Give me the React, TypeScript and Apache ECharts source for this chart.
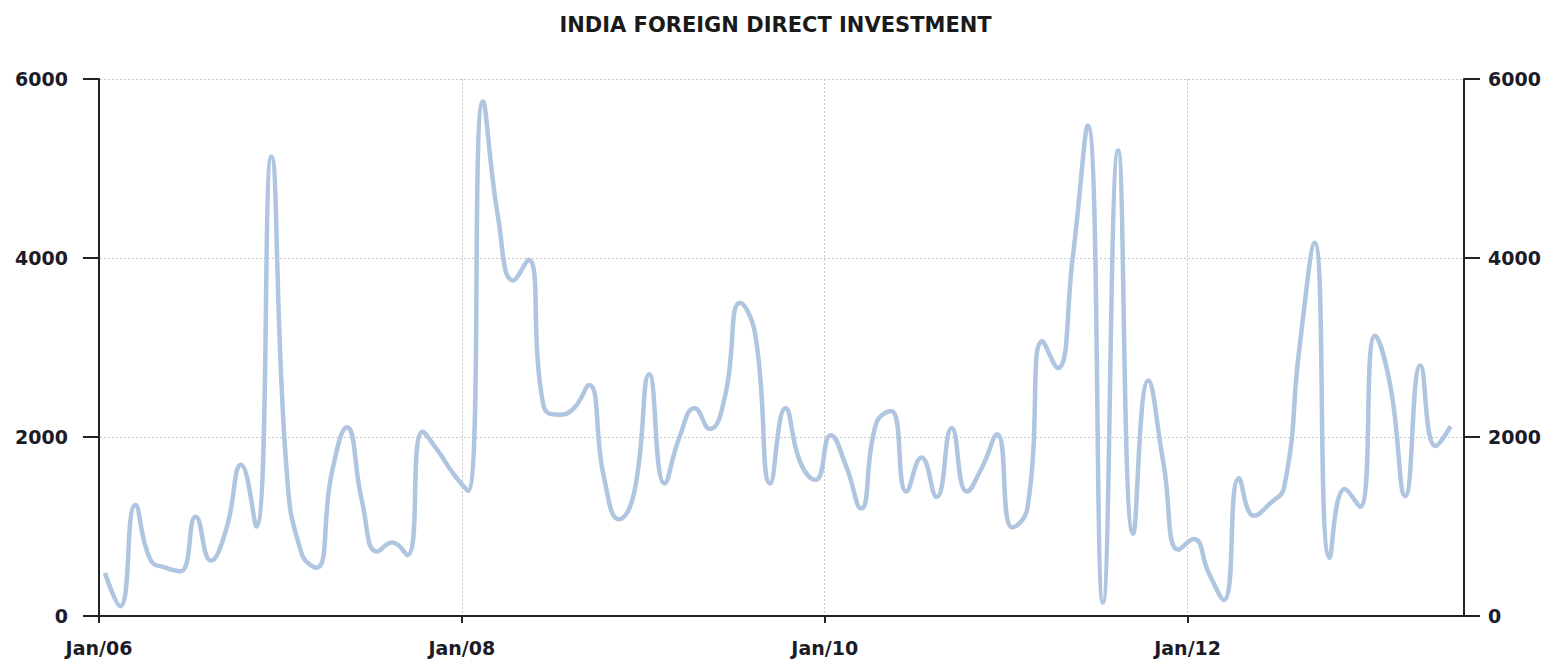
import React, { useEffect, useRef } from "react";
import * as echarts from "echarts";

const TITLE = "INDIA FOREIGN DIRECT INVESTMENT";
// Monthly values, Jan 2006 .. Jun 2013 (USD million)
const START_YEAR = 2006;
const fdiValues: number[] = [
  480, 110, 1240, 630, 540, 500, 1110, 620, 960, 1690, 1000, 5130,
  1650, 700, 540, 1600, 2110, 1280, 720, 820, 680, 2060, 1850, 1600,
  1400, 5750, 4450, 3750, 3980, 2350, 2250, 2320, 2580, 1550, 1080, 1380,
  2700, 1480, 2000, 2320, 2090, 2450, 3500, 3150, 1480, 2320, 1710, 1520,
  2020, 1680, 1200, 2150, 2290, 1390, 1770, 1330, 2100, 1390, 1660, 2030,
  990, 1200, 3070, 2770, 4000, 5480, 150, 5200, 920, 2630, 1710, 740,
  860, 480, 180, 1540, 1120, 1250, 1450, 3000, 4170, 650, 1420, 1220,
  3130, 2580, 1340, 2800, 1900, 2120,
];
// x-axis tick positions in months since Jan 2006
const xTickMonths = [0, 24, 48, 72];

export default function App() {
  const ref = useRef<HTMLDivElement>(null);
  useEffect(() => {
    if (!ref.current) return;
    const chart = echarts.init(ref.current, undefined, { renderer: "svg" });
    const data = fdiValues.map((v, k) => [k + 0.4, v]);
    const labelStyle = {
      fontFamily: "DejaVu Sans",
      fontSize: 19,
      fontWeight: "bold",
      color: "#1c1c28",
    };
    const yCommon = {
      type: "value",
      min: 0,
      max: 6000,
      interval: 2000,
      axisLine: { show: true, lineStyle: { color: "#222", width: 2 } },
      axisTick: { show: true, length: 16, lineStyle: { color: "#222", width: 2 } },
    };
    chart.setOption({
      animation: false,
      backgroundColor: "#fff",
      title: {
        text: TITLE,
        left: "center",
        top: 9,
        textStyle: {
          fontFamily: "DejaVu Sans",
          fontSize: 21,
          fontWeight: "bold",
          color: "#1a1a1a",
        },
      },
      grid: { left: 92, right: 87, top: 79, bottom: 47 },
      xAxis: {
        type: "value",
        min: -0.46,
        max: 90.28,
        axisLine: { show: true, onZero: false, lineStyle: { color: "#222", width: 2 } },
        axisTick: {
          show: true,
          length: 7,
          customValues: xTickMonths,
          lineStyle: { color: "#222", width: 2 },
        },
        axisLabel: {
          ...labelStyle,
          margin: 22,
          customValues: xTickMonths,
          formatter: (v: number) =>
            "Jan/" + String((START_YEAR + Math.round(v / 12)) % 100).padStart(2, "0"),
        },
        splitLine: {
          show: true,
          lineStyle: { color: "#c8c8c8", type: [2, 2], width: 1 },
        },
      },
      yAxis: [
        {
          ...yCommon,
          position: "left",
          axisLabel: { ...labelStyle, margin: 24, formatter: (v: number) => String(v) },
          splitLine: {
            show: true,
            lineStyle: { color: "#c8c8c8", type: [2, 2], width: 1 },
          },
        },
        {
          ...yCommon,
          position: "right",
          axisLabel: { ...labelStyle, margin: 24, formatter: (v: number) => String(v) },
          splitLine: { show: false },
        },
      ],
      series: [
        {
          type: "line",
          data,
          yAxisIndex: 0,
          smooth: 0.5,
          showSymbol: false,
          lineStyle: { color: "#afc5e0", width: 4.5 },
        },
      ],
    });
    return () => chart.dispose();
  }, []);
  return (
    <div
      ref={ref}
      style={{ position: "fixed", left: 0, top: 0, width: 1551, height: 663 }}
    />
  );
}
